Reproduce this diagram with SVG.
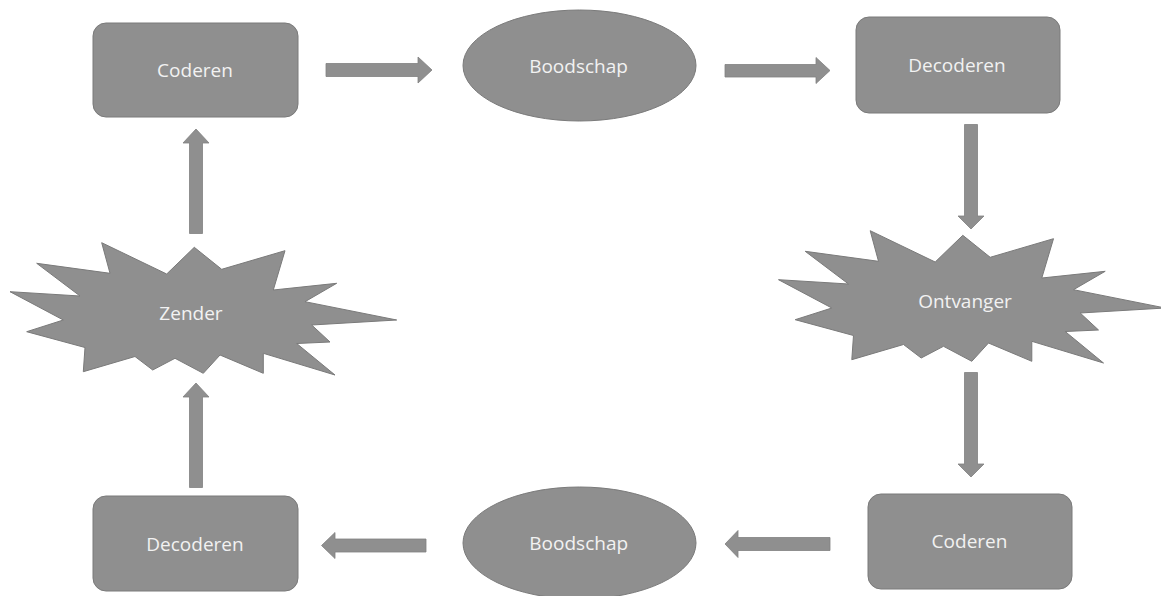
<svg xmlns="http://www.w3.org/2000/svg" width="1161" height="596" viewBox="0 0 1161 596">
  <style>
    .shape { fill: #8f8f8f; stroke: #7a7a7a; stroke-width: 1; }
    .arrow { fill: #8f8f8f; stroke: #808080; stroke-width: 0.8; }
    .label { font-family: "Open Sans", "Noto Sans", "Liberation Sans", sans-serif; font-size: 19px; fill: #f2f2f2; text-anchor: middle; }
  </style>
  <defs>
    <path id="burst" d="M194.3,247.3 L221.7,269.3 L285,250.7 L273.3,290 L336.7,283.3 L305,301.7 L396.7,320 L311.7,325 L330,342 L296.7,343.5 L335,375 L263.3,353.3 L263.3,373.3 L220,355 L203.3,373.3 L175,358.3 L152.7,370 L135,356.5 L83.3,371.7 L85,347.5 L26.7,331.7 L63.3,320 L10,291.7 L80,296 L36.7,263.3 L110,273.3 L101.7,242.7 L166.7,274 Z"/>
  </defs>
  <rect width="1161" height="596" fill="#ffffff"/>

  <g id="connectors">
    <path class="arrow" d="M326,63.5 H418 V57 L432,70 L418,83 V76.5 H326 Z"/>
    <path class="arrow" d="M725,64.5 H816 V57.5 L830,70.5 L816,83.5 V77 H725 Z"/>
    <path class="arrow" d="M964.5,124.5 V216 H958 L971,229 L984,216 H977.5 V124.5 Z"/>
    <path class="arrow" d="M964.5,372.5 V464 H958 L971,477 L984,464 H977.5 V372.5 Z"/>
    <path class="arrow" d="M830,537.5 H738 V530.5 L725,544 L738,557.5 V550.5 H830 Z"/>
    <path class="arrow" d="M426,539 H335 V532.5 L321.5,545.5 L335,558.5 V552 H426 Z"/>
    <path class="arrow" d="M189.5,487.5 V397 H183 L196,383 L209,397 H202.5 V487.5 Z"/>
    <path class="arrow" d="M189.5,233.5 V143 H183 L196,129 L209,143 H202.5 V233.5 Z"/>
  </g>

  <g id="coderen-top">
    <rect class="shape" x="93" y="23" width="205" height="94" rx="13"/>
    <text class="label" x="195" y="77">Coderen</text>
  </g>

  <g id="boodschap-top">
    <ellipse class="shape" cx="579.5" cy="65.5" rx="116.5" ry="55.5"/>
    <text class="label" x="578.5" y="73">Boodschap</text>
  </g>

  <g id="decoderen-top">
    <rect class="shape" x="856" y="17" width="204" height="96" rx="13"/>
    <text class="label" x="957" y="72">Decoderen</text>
  </g>

  <g id="zender">
    <use href="#burst" class="shape"/>
    <text class="label" x="191" y="320">Zender</text>
  </g>

  <g id="ontvanger">
    <use href="#burst" class="shape" transform="translate(768.5,-12)"/>
    <text class="label" x="965" y="308">Ontvanger</text>
  </g>

  <g id="coderen-bottom">
    <rect class="shape" x="868" y="494" width="204" height="95" rx="13"/>
    <text class="label" x="969.5" y="548">Coderen</text>
  </g>

  <g id="boodschap-bottom">
    <ellipse class="shape" cx="579.5" cy="543" rx="116.5" ry="56"/>
    <text class="label" x="578.7" y="550">Boodschap</text>
  </g>

  <g id="decoderen-bottom">
    <rect class="shape" x="93" y="496" width="205" height="95" rx="13"/>
    <text class="label" x="195" y="551">Decoderen</text>
  </g>
</svg>
